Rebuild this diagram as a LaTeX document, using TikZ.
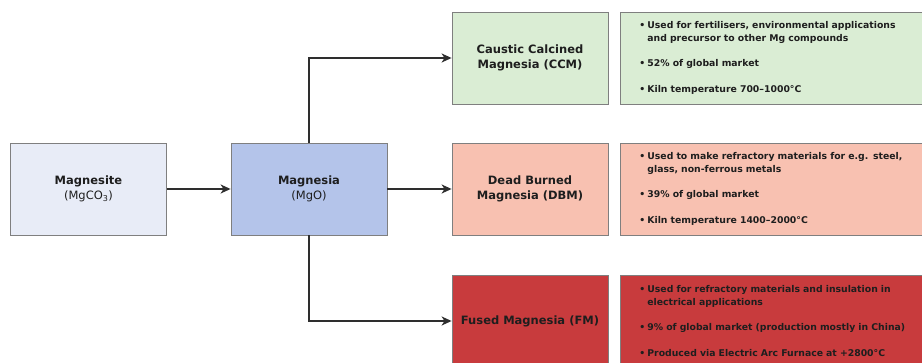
\documentclass[tikz,border=0pt]{standalone}
\usepackage{fontspec}
\setmainfont{DejaVu Sans}
\usetikzlibrary{arrows.meta}
\definecolor{boxgray}{HTML}{7F7F7F}
\definecolor{textdark}{HTML}{1E1E1E}
\definecolor{arrowdark}{HTML}{2E2E2E}
\definecolor{mgcfill}{HTML}{E8ECF7}
\definecolor{mgofill}{HTML}{B4C4EA}
\definecolor{ccmfill}{HTML}{DAEDD4}
\definecolor{dbmfill}{HTML}{F8C1B1}
\definecolor{fmfill}{HTML}{C83B3D}
\newcommand{\bul}{\makebox[8pt][l]{\textbullet}}
\newcommand{\cont}{\hspace*{8pt}}

\begin{document}
\begin{tikzpicture}[x=1pt,y=-1pt,
  box/.style={draw=boxgray,line width=0.8pt,minimum width=156pt,minimum height=92pt,
    align=center,text=textdark,font=\fontsize{11.5}{15.5}\selectfont},
  info/.style={draw=boxgray,line width=0.8pt,anchor=west,text width=283pt,inner xsep=19pt,
    minimum height=92pt,align=left,text=textdark,font=\fontsize{9.3}{12.8}\selectfont\bfseries},
  flow/.style={draw=arrowdark,line width=1.9pt,-{Stealth[length=10pt,width=9pt,inset=3pt]}}]

\useasboundingbox (0,0) rectangle (922,363);

\node[box,fill=mgcfill] (mgc) at (88.5,189) {\textbf{Magnesite}\\(MgCO\textsubscript{3})};
\node[box,fill=mgofill] (mgo) at (309,189) {\textbf{Magnesia}\\(MgO)};

\node[box,fill=ccmfill,font=\fontsize{11.5}{15.5}\selectfont\bfseries] (ccm) at (530,58) {Caustic Calcined\\Magnesia (CCM)};
\node[box,fill=dbmfill,font=\fontsize{11.5}{15.5}\selectfont\bfseries] (dbm) at (530,189) {Dead Burned\\Magnesia (DBM)};
\node[box,fill=fmfill,font=\fontsize{11.5}{15.5}\selectfont\bfseries] (fm) at (530,321) {Fused Magnesia (FM)};

\node[info,fill=ccmfill] (ccminfo) at (620,58) {\bul Used for fertilisers, environmental applications\\
  \cont and precursor to other Mg compounds\\[12.8pt]
  \bul 52\% of global market\\[12.8pt]
  \bul Kiln temperature 700–1000°C};
\node[info,fill=dbmfill] (dbminfo) at (620,189) {\bul Used to make refractory materials for e.g. steel,\\
  \cont glass, non-ferrous metals\\[12.8pt]
  \bul 39\% of global market\\[12.8pt]
  \bul Kiln temperature 1400–2000°C};
\node[info,fill=fmfill] (fminfo) at (620,321) {\bul Used for refractory materials and insulation in\\
  \cont electrical applications\\[12.8pt]
  \bul 9\% of global market (production mostly in China)\\[12.8pt]
  \bul Produced via Electric Arc Furnace at +2800°C};

\draw[flow] (mgc) -- (mgo);
\draw[flow] (mgo.north) |- (ccm.west);
\draw[flow] (mgo) -- (dbm);
\draw[flow] (mgo.south) |- (fm.west);

\end{tikzpicture}
\end{document}
